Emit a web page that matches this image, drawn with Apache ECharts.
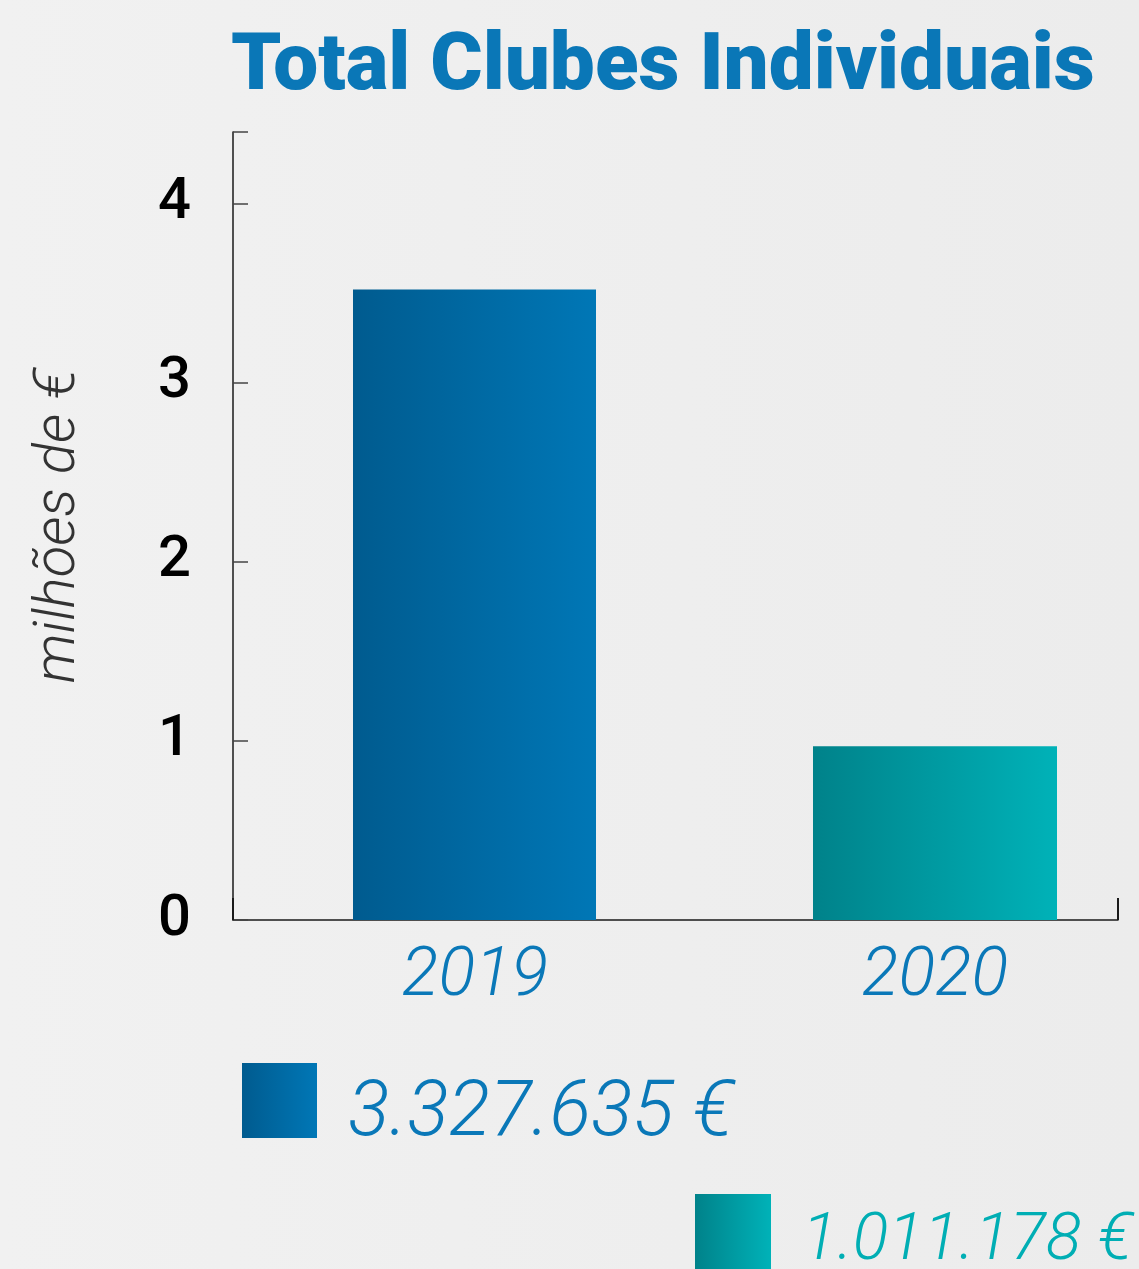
<!DOCTYPE html>
<html>
<head>
<meta charset="utf-8">
<script src="https://cdn.jsdelivr.net/npm/echarts@6/dist/echarts.min.js"></script>
<style>
  html, body { margin: 0; padding: 0; background: #efefef; }
  #main { width: 1139px; height: 1269px; }
</style>
</head>
<body>
<div id="main"></div>
<script>
var years = ['2019', '2020'];
// bar heights as drawn (milhões de €)
var barValues = [3.52, 0.97];
// totals printed in the legend
var totals = [3327635, 1011178];
var yTicks = [0, 1, 2, 3, 4];
var yMax = 4.4;

var blue = '#0a78b8';
var teal = '#00aeb4';

function formatEuro(v) {
  return String(v).replace(/\B(?=(\d{3})+(?!\d))/g, '.') + ' €';
}

function grad(c0, c1) {
  return new echarts.graphic.LinearGradient(0, 0, 1, 0, [
    { offset: 0, color: c0 },
    { offset: 1, color: c1 }
  ]);
}

function legendText(color, size, drop) {
  return {
    fontFamily: 'Roboto',
    fontStyle: 'italic',
    fontWeight: 300,
    fontSize: size,
    color: color,
    padding: [0, 0, 0, 26],
    rich: {
      v: {
        fontFamily: 'Roboto',
        fontStyle: 'italic',
        fontWeight: 300,
        fontSize: size,
        color: color,
        padding: [drop, 0, 0, 0]
      }
    }
  };
}

var chart = echarts.init(document.getElementById('main'));

var option = {
  backgroundColor: new echarts.graphic.LinearGradient(0, 0, 1, 0, [
    { offset: 0, color: '#f1f1f1' },
    { offset: 1, color: '#ececec' }
  ]),
  animation: false,
  title: {
    text: 'Total Clubes Individuais',
    left: 226,
    top: 24,
    textStyle: {
      fontFamily: 'Roboto',
      fontWeight: 900,
      fontSize: 80,
      color: '#0a77b7'
    }
  },
  grid: [
    // axes frame
    { left: 233, right: 21, top: 132, bottom: 349, outerBoundsMode: 'none' },
    // bars: categories sit on the grid edges
    { left: 475, right: 204, top: 132, bottom: 349, outerBoundsMode: 'none' }
  ],
  xAxis: [
    {
      type: 'value',
      gridIndex: 0,
      min: 0,
      max: 2,
      interval: 2,
      axisLine: { show: true, lineStyle: { color: '#1a1a1a', width: 1.5 } },
      axisTick: { show: true, inside: true, length: 22, lineStyle: { color: '#1a1a1a', width: 2 } },
      axisLabel: { show: false },
      splitLine: { show: false }
    },
    {
      type: 'category',
      gridIndex: 1,
      data: years,
      boundaryGap: false,
      axisLine: { show: false },
      axisTick: { show: false },
      axisLabel: {
        margin: 24,
        fontFamily: 'Roboto',
        fontStyle: 'italic',
        fontWeight: 300,
        fontSize: 68,
        color: blue
      }
    }
  ],
  yAxis: [
    {
      type: 'value',
      gridIndex: 0,
      min: 0,
      max: yMax,
      name: 'milhões de €',
      nameLocation: 'middle',
      nameGap: 145,
      nameTextStyle: {
        fontFamily: 'Roboto',
        fontStyle: 'italic',
        fontWeight: 300,
        fontSize: 58,
        color: '#333'
      },
      axisLine: { show: true, lineStyle: { color: '#1a1a1a', width: 1.5 } },
      axisTick: {
        show: true,
        inside: true,
        length: 15,
        customValues: yTicks.concat([yMax]),
        lineStyle: { color: '#444', width: 1.5 }
      },
      axisLabel: {
        margin: 42,
        customValues: yTicks,
        fontFamily: 'Roboto',
        fontWeight: 500,
        fontSize: 58,
        color: '#000'
      },
      splitLine: { show: false }
    },
    {
      type: 'value',
      gridIndex: 1,
      min: 0,
      max: yMax,
      show: false
    }
  ],
  legend: [
    {
      data: [years[0]],
      left: 242,
      top: 1063,
      padding: 0,
      icon: 'rect',
      itemWidth: 75,
      itemHeight: 75,
      formatter: function () { return '{v|' + formatEuro(totals[0]) + '}'; },
      textStyle: legendText(blue, 77, 30)
    },
    {
      data: [years[1]],
      left: 695,
      top: 1194,
      padding: 0,
      icon: 'rect',
      itemWidth: 76,
      itemHeight: 75,
      formatter: function () { return '{v|' + formatEuro(totals[1]) + '}'; },
      textStyle: legendText(teal, 66, 22)
    }
  ],
  series: [
    {
      name: years[0],
      type: 'bar',
      xAxisIndex: 1,
      yAxisIndex: 1,
      barWidth: 243,
      barGap: '-100%',
      clip: false,
      data: [barValues[0], '-'],
      itemStyle: { color: grad('#005b8f', '#0077b6') }
    },
    {
      name: years[1],
      type: 'bar',
      xAxisIndex: 1,
      yAxisIndex: 1,
      barWidth: 244,
      barGap: '-100%',
      clip: false,
      data: ['-', barValues[1]],
      itemStyle: { color: grad('#00828a', '#00b2b8') }
    }
  ]
};

chart.setOption(option);
</script>
</body>
</html>
